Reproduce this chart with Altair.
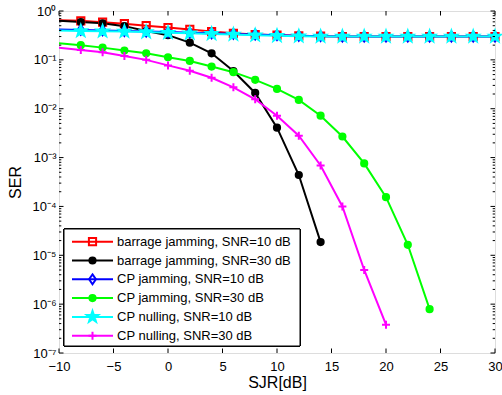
import math
import altair as alt
import pandas as pd

# ---------------- data ----------------
sjr = [-10, -8, -6, -4, -2, 0, 2, 4, 6, 8, 10, 12, 14, 16, 18, 20, 22, 24, 26, 28, 30]

series_names = [
    "barrage jamming, SNR=10 dB",
    "barrage jamming, SNR=30 dB",
    "CP jamming, SNR=10 dB",
    "CP jamming, SNR=30 dB",
    "CP nulling, SNR=10 dB",
    "CP nulling, SNR=30 dB",
]

barrage_10 = [0.65, 0.63, 0.59, 0.55, 0.50, 0.46, 0.42, 0.38, 0.35, 0.33, 0.32,
              0.31, 0.305, 0.30, 0.30, 0.30, 0.30, 0.30, 0.30, 0.30, 0.30]
barrage_30 = [0.63, 0.595, 0.56, 0.49, 0.39, 0.32, 0.225, 0.136, 0.059, 0.021,
              0.0041, 4.4e-4, 1.86e-5]
cp_jam_10 = [0.42, 0.41, 0.40, 0.39, 0.38, 0.37, 0.36, 0.35, 0.34, 0.33, 0.32,
             0.31, 0.305, 0.30, 0.30, 0.30, 0.30, 0.30, 0.30, 0.30, 0.30]
cp_jam_30 = [0.22, 0.20, 0.178, 0.155, 0.136, 0.113, 0.095, 0.073, 0.056, 0.039,
             0.0254, 0.0151, 0.0072, 0.0027, 7.6e-4, 1.55e-4, 1.64e-5, 7.9e-7]
cp_null_10 = [0.40, 0.39, 0.385, 0.38, 0.37, 0.36, 0.35, 0.34, 0.33, 0.32, 0.31,
              0.305, 0.30, 0.30, 0.30, 0.30, 0.30, 0.30, 0.30, 0.30, 0.30]
cp_null_30 = [0.178, 0.16, 0.143, 0.12, 0.10, 0.077, 0.06, 0.043, 0.0274, 0.0156,
              0.0072, 0.0028, 6.9e-4, 1.0e-4, 5.0e-6, 3.8e-7]

series_values = [barrage_10, barrage_30, cp_jam_10, cp_jam_30, cp_null_10, cp_null_30]

x_ticks = [-10, -5, 0, 5, 10, 15, 20, 25, 30]
y_major = [1e-7, 1e-6, 1e-5, 1e-4, 1e-3, 1e-2, 1e-1, 1.0]
y_labels = ["10⁻⁷", "10⁻⁶", "10⁻⁵", "10⁻⁴", "10⁻³", "10⁻²", "10⁻¹", "10⁰"]
y_minor = [m * 10.0 ** k for k in range(-7, 0) for m in range(2, 10)]

# ---------------- styles ----------------
stroke_colors = ["#ff0000", "#000000", "#0000ff", "#00ff00", "#00ffff", "#ff00ff"]
fill_colors = ["transparent", "#000000", "transparent", "#00ff00", "#00ffff", "#ff00ff"]


def fmt(v):
    return f"{v:.3f}".rstrip("0").rstrip(".")


def square(h=0.72):
    return f"M{fmt(-h)},{fmt(-h)}H{fmt(h)}V{fmt(h)}H{fmt(-h)}Z"


def circle(r=0.62):
    return f"M{fmt(-r)},0A{fmt(r)},{fmt(r)} 0 1,0 {fmt(r)},0A{fmt(r)},{fmt(r)} 0 1,0 {fmt(-r)},0Z"


def diamond(w=0.68, h=0.98):
    return f"M0,{fmt(-h)}L{fmt(w)},0L0,{fmt(h)}L{fmt(-w)},0Z"


def star(R=1.2):
    r = R * 0.40
    pts = []
    for i in range(10):
        ang = math.radians(-90 + 36 * i)
        rad = R if i % 2 == 0 else r
        pts.append((rad * math.cos(ang), rad * math.sin(ang)))
    return "M" + "L".join(f"{fmt(px)},{fmt(py)}" for px, py in pts) + "Z"


def plus(h=0.8):
    return f"M{fmt(-h)},0H{fmt(h)}M0,{fmt(-h)}V{fmt(h)}"


marker_paths = [square(), circle(), diamond(), circle(), star(), plus()]

# ---------------- tables ----------------
rows = []
for name, vals in zip(series_names, series_values):
    for x, v in zip(sjr, vals):
        rows.append({"series": name, "SJR": x, "SER": v})
df = pd.DataFrame(rows)
df_pts = df[df["SJR"] > -10]
df_xt = pd.DataFrame({"SJR": x_ticks})
df_ymaj = pd.DataFrame({"SER": y_major})
df_ymin = pd.DataFrame({"SER": y_minor})
df_leg = pd.DataFrame({"series": series_names})

W, H = 436, 342
FONT = "Liberation Sans"
MAJ, MIN = 4.5, 2.3

x_scale = alt.Scale(domain=[-10, 30], nice=False)
y_scale = alt.Scale(type="log", domain=[1e-7, 1], nice=False)

x_axis = alt.Axis(values=x_ticks, tickSize=0, domain=False, grid=False,
                  labelFlush=False, labelOverlap=False, labelPadding=7,
                  labelFontSize=13, labelFont=FONT, labelColor="black",
                  title="SJR[dB]", titleFontSize=16, titleFont=FONT,
                  titleFontWeight="normal", titleColor="black", titlePadding=1)
y_axis = alt.Axis(values=y_major, tickSize=0, domain=False, grid=False,
                  labelExpr="[" + ",".join(f"'{s}'" for s in y_labels) +
                            "][round(log(datum.value)/LN10)+7]",
                  labelOverlap=False, labelPadding=3, labelOffset=0,
                  labelFontSize=13, labelFont=FONT, labelColor="black",
                  title="SER", titleFontSize=16, titleFont=FONT,
                  titleFontWeight="normal", titleColor="black", titlePadding=8)

X = alt.X("SJR:Q", scale=x_scale, axis=x_axis)
Y = alt.Y("SER:Q", scale=y_scale, axis=y_axis)

stroke_scale = alt.Scale(domain=series_names, range=stroke_colors)
fill_scale = alt.Scale(domain=series_names, range=fill_colors)
shape_scale = alt.Scale(domain=series_names, range=marker_paths)

lines = alt.Chart(df).mark_line(strokeWidth=2, clip=True).encode(
    x=X, y=Y,
    stroke=alt.Stroke("series:N", scale=stroke_scale, legend=None),
    detail="series:N",
    order="SJR:Q",
)

points = alt.Chart(df_pts).mark_point(size=100, strokeWidth=2, opacity=1).encode(
    x=X, y=Y,
    stroke=alt.Stroke("series:N", scale=stroke_scale, legend=None),
    fill=alt.Fill("series:N", scale=fill_scale, legend=None),
    shape=alt.Shape("series:N", scale=shape_scale, legend=None),
)

tick_style = dict(color="black", strokeWidth=1)
xt_bottom = alt.Chart(df_xt).mark_rule(**tick_style).encode(
    x=X, y=alt.value(H), y2=alt.value(H - MAJ))
xt_top = alt.Chart(df_xt).mark_rule(**tick_style).encode(
    x=X, y=alt.value(0), y2=alt.value(MAJ))
yt_left_maj = alt.Chart(df_ymaj).mark_rule(**tick_style).encode(
    y=Y, x=alt.value(0), x2=alt.value(MAJ))
yt_right_maj = alt.Chart(df_ymaj).mark_rule(**tick_style).encode(
    y=Y, x=alt.value(W), x2=alt.value(W - MAJ))
yt_left_min = alt.Chart(df_ymin).mark_rule(**tick_style).encode(
    y=Y, x=alt.value(0), x2=alt.value(MIN))
yt_right_min = alt.Chart(df_ymin).mark_rule(**tick_style).encode(
    y=Y, x=alt.value(W), x2=alt.value(W - MIN))

main = alt.layer(lines, points, xt_bottom, xt_top,
                 yt_left_maj, yt_right_maj, yt_left_min, yt_right_min)

# ---------------- legend (built from the same scales) ----------------
LY = alt.Y("series:N", scale=alt.Scale(type="point", domain=series_names,
                                       range=[230.7, 324.7], padding=0), axis=None)
leg_box = alt.Chart(df_leg).mark_rect(fill="white", stroke="black", strokeWidth=1).encode(
    x=alt.value(5), x2=alt.value(241), y=alt.value(218), y2=alt.value(335))
leg_lines = alt.Chart(df_leg).mark_rule(strokeWidth=2).encode(
    x=alt.value(13), x2=alt.value(54), y=LY,
    stroke=alt.Stroke("series:N", scale=stroke_scale, legend=None))
leg_marks = alt.Chart(df_leg).mark_point(size=100, strokeWidth=2, opacity=1).encode(
    x=alt.value(33.5), y=LY,
    stroke=alt.Stroke("series:N", scale=stroke_scale, legend=None),
    fill=alt.Fill("series:N", scale=fill_scale, legend=None),
    shape=alt.Shape("series:N", scale=shape_scale, legend=None))
leg_text = alt.Chart(df_leg).mark_text(align="left", baseline="middle", font=FONT,
                                       fontSize=13, color="black").encode(
    x=alt.value(58), y=LY, text="series:N")

legend = alt.layer(leg_box, leg_lines, leg_marks, leg_text)

chart = alt.layer(main, legend).resolve_scale(
    y="independent"
).properties(
    width=W, height=H,
    autosize=alt.AutoSizeParams(type="none"),
    padding={"left": 59, "top": 11, "right": 7, "bottom": 42},
).configure_view(
    stroke="black", strokeWidth=1.3
).configure(background="white")

chart.save("out.html", embed_options={"renderer": "svg", "actions": False})
